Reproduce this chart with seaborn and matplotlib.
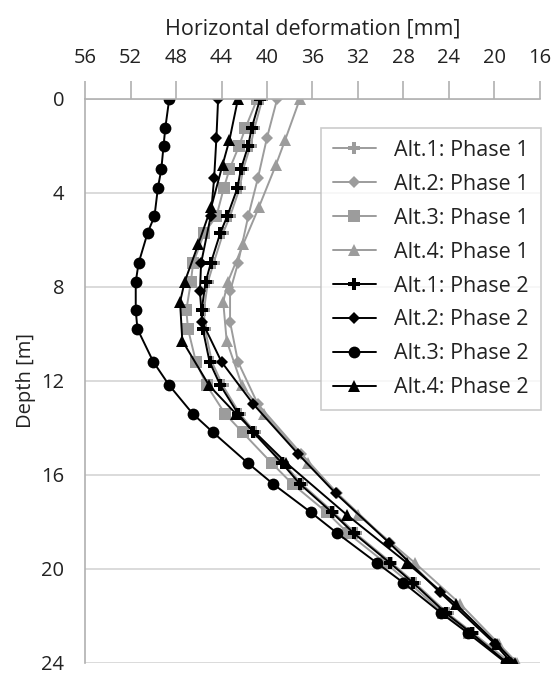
import numpy as np
import pandas as pd
import matplotlib
matplotlib.use("Agg")
import matplotlib.pyplot as plt
import seaborn as sns
from matplotlib.ticker import MultipleLocator

# depths [m] of the result points
depth_alt13 = [0, 1.25, 2.0, 3.0, 3.8, 5.0, 5.7, 7.0, 7.8, 9.0, 9.8, 11.2, 12.2,
               13.4, 14.2, 15.5, 16.4, 17.6, 18.5, 19.75, 20.6, 21.9, 22.75, 24.0]
depth_alt2 = [0, 1.66, 3.38, 5.0, 7.0, 8.2, 9.5, 11.2, 13.0, 15.1, 16.8, 18.9,
              21.0, 23.2, 24.0]
depth_alt4 = [0, 1.75, 2.8, 4.6, 6.2, 7.8, 8.65, 10.3, 12.2, 13.4, 15.5, 17.7,
              19.75, 21.5, 23.2, 24.0]

# horizontal deformation [mm]
alt1_ph1 = [40.4, 41.1, 41.45, 42.1, 42.4, 43.25, 43.85, 44.7, 45.2, 45.55, 45.45,
            44.85, 43.9, 42.4, 41.05, 38.55, 36.95, 34.15, 32.2, 29.05, 27.0, 24.1,
            21.85, 18.6]
alt2_ph1 = [39.1, 40.0, 40.8, 41.65, 42.55, 43.25, 43.25, 42.55, 40.8, 37.0, 33.8,
            29.2, 24.7, 19.9, 18.4]
alt3_ph1 = [40.85, 41.9, 42.45, 43.3, 43.8, 44.45, 45.5, 46.5, 46.7, 47.1, 46.95,
            46.25, 45.3, 43.7, 42.15, 39.6, 37.75, 34.75, 32.85, 29.6, 27.5, 24.5,
            22.2, 18.8]
alt4_ph1 = [37.1, 38.4, 39.2, 40.7, 42.1, 43.45, 43.85, 43.55, 42.2, 40.3, 36.4,
            32.0, 27.0, 23.0, 19.6, 18.0]
alt1_ph2 = [40.6, 41.35, 41.65, 42.3, 42.6, 43.5, 44.1, 44.95, 45.4, 45.75, 45.65,
            45.05, 44.1, 42.55, 41.2, 38.7, 37.1, 34.3, 32.35, 29.2, 27.15, 24.25,
            22.0, 18.9]
alt2_ph2 = [44.3, 44.45, 44.65, 44.95, 45.8, 45.9, 45.7, 44.0, 41.2, 37.3, 33.95,
            29.25, 24.8, 19.95, 18.5]
alt3_ph2 = [48.6, 48.95, 49.1, 49.3, 49.6, 49.9, 50.5, 51.3, 51.55, 51.55, 51.4,
            50.0, 48.6, 46.55, 44.75, 41.7, 39.45, 36.15, 33.8, 30.35, 28.0, 24.65,
            22.3, 19.0]
alt4_ph2 = [42.55, 43.3, 43.9, 44.9, 46.05, 47.25, 47.65, 47.45, 45.1, 42.75, 38.3,
            33.0, 27.7, 23.4, 19.8, 18.2]

series = [
    ("Alt.1: Phase 1", alt1_ph1, depth_alt13, "#9c9c9c", "P", 8.5),
    ("Alt.2: Phase 1", alt2_ph1, depth_alt2, "#9c9c9c", "D", 6.5),
    ("Alt.3: Phase 1", alt3_ph1, depth_alt13, "#9c9c9c", "s", 8),
    ("Alt.4: Phase 1", alt4_ph1, depth_alt4, "#9c9c9c", "^", 8),
    ("Alt.1: Phase 2", alt1_ph2, depth_alt13, "#000000", "P", 8.5),
    ("Alt.2: Phase 2", alt2_ph2, depth_alt2, "#000000", "D", 6.5),
    ("Alt.3: Phase 2", alt3_ph2, depth_alt13, "#000000", "o", 8.5),
    ("Alt.4: Phase 2", alt4_ph2, depth_alt4, "#000000", "^", 8),
]

sns.set_style("white")
plt.rcParams["font.family"] = ["Open Sans", "DejaVu Sans"]

fig = plt.figure(figsize=(5.53, 6.81), dpi=100)
ax = fig.add_axes([0.154, 0.027, 0.822, 0.828])

for name, vals, dep, col, mk, ms in series:
    df = pd.DataFrame({"defo": vals, "depth": dep})
    sns.lineplot(data=df, x="defo", y="depth", sort=False, estimator=None,
                 color=col, marker=mk, markersize=ms, markeredgewidth=0,
                 linewidth=1.4, label=name, ax=ax)

ax.set_xlim(56, 16)
ax.set_ylim(24, 0)
ax.xaxis.set_major_locator(MultipleLocator(4))
ax.yaxis.set_major_locator(MultipleLocator(4))
ax.yaxis.set_minor_locator(MultipleLocator(2))
ax.xaxis.tick_top()
ax.xaxis.set_label_position("top")
ax.set_xlabel("Horizontal deformation [mm]", fontsize=15.5, color="#222222", labelpad=10)
ax.set_ylabel("Depth [m]", fontsize=14.5, color="#222222", labelpad=4)

ax.grid(axis="y", which="major", color="#d4d4d4", linewidth=1.2)
ax.set_axisbelow(True)
for s in ["right", "bottom"]:
    ax.spines[s].set_visible(False)
for s in ["top", "left"]:
    ax.spines[s].set_color("#b0b0b0")
    ax.spines[s].set_linewidth(1.2)

ax.tick_params(axis="x", which="major", direction="out", length=13, width=1.2,
               color="#b0b0b0", labelsize=14.5, labelcolor="#222222", pad=9)
ax.tick_params(axis="y", which="major", length=0, pad=15, labelsize=14.5,
               labelcolor="#222222")
ax.tick_params(axis="y", which="minor", direction="in", length=6, width=1.2,
               color="#b0b0b0")

leg = ax.legend(loc="upper right", bbox_to_anchor=(1.002, 0.948), borderaxespad=0,
                frameon=True, fancybox=False, fontsize=15.5, handlelength=2.0,
                labelspacing=0.6, borderpad=0.55, handletextpad=0.85)
leg.get_frame().set_edgecolor("#bfbfbf")
leg.get_frame().set_linewidth(1.2)
for t in leg.get_texts():
    t.set_color("#222222")

fig.savefig("out.png", dpi=100)
